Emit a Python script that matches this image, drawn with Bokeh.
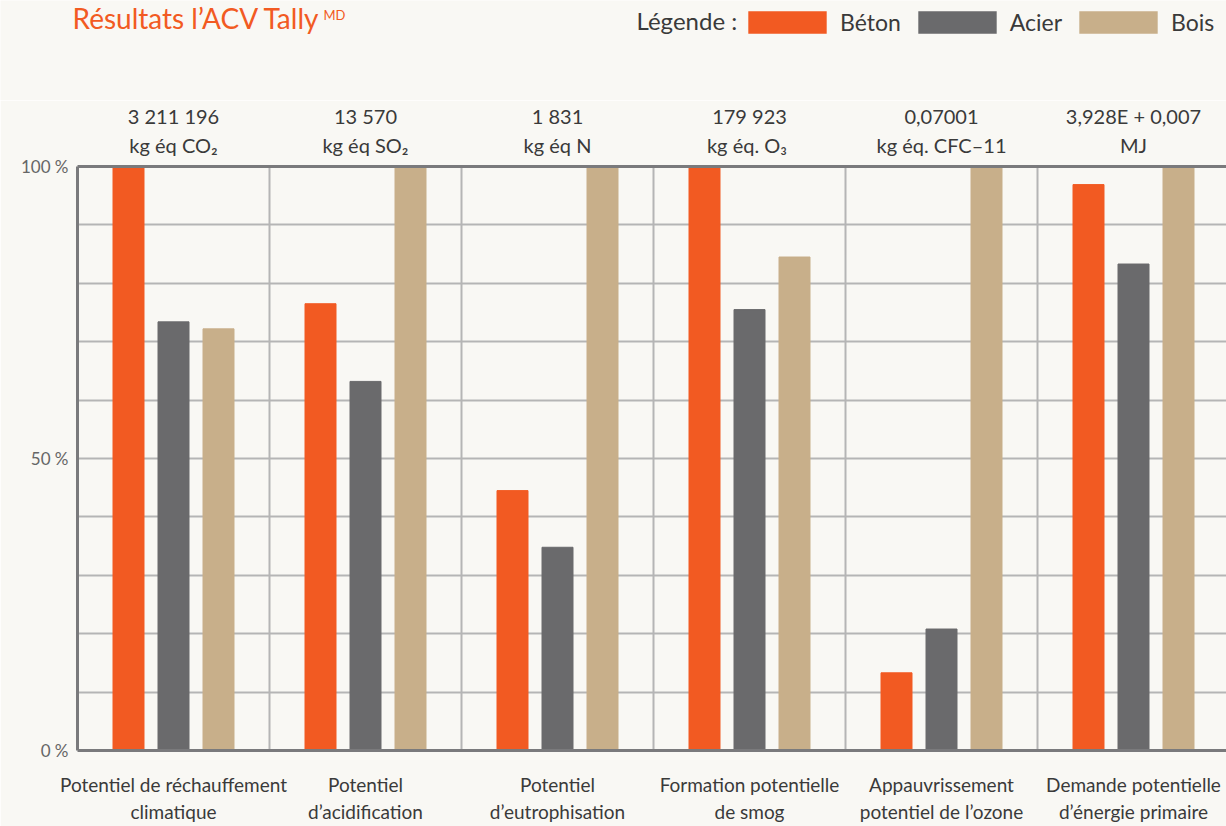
from bokeh.plotting import figure
from bokeh.layouts import column
from bokeh.models import FixedTicker, LinearAxis, Range1d, Label, Legend, LegendItem, ColumnDataSource
from bokeh.transform import dodge
from bokeh.embed import file_html
from bokeh.resources import INLINE

categories = ["Potentiel de réchauffement\nclimatique", "Potentiel\nd’acidification",
              "Potentiel\nd’eutrophisation", "Formation potentielle\nde smog",
              "Appauvrissement\npotentiel de l’ozone", "Demande potentielle\nd’énergie primaire"]
totals = ["3 211 196", "13 570", "1 831", "179 923", "0,07001", "3,928E + 0,007"]
units = ["kg éq CO₂", "kg éq SO₂", "kg éq N", "kg  éq. O₃", "kg éq. CFC–11", "MJ"]
beton = [100, 76.5, 44.5, 100, 13.3, 96.9]
acier = [73.4, 63.2, 34.8, 75.5, 20.8, 83.3]
bois = [72.2, 100, 100, 84.5, 100, 100]
series = ["Béton", "Acier", "Bois"]
ytick_values = [0, 50, 100]
ytick_labels = ["0 %", "50 %", "100 %"]

ORANGE = "#F25A22"
GREY = "#6A6A6C"
SAND = "#C8AF8A"
BG = "#F9F8F4"
GRID = "#B5B5B5"
AXIS = "#7A7A7C"
TXT = "#3A3A3A"
FONT = "Lato"
colors = [ORANGE, GREY, SAND]

centers = [i + 0.5 for i in range(len(categories))]
src = ColumnDataSource(dict(x=centers, beton=beton, acier=acier, bois=bois))

# ---------- header (title + legend) ----------
HEAD_H = 100
head = figure(width=1226, height=HEAD_H, output_backend="svg", toolbar_location=None,
              x_range=Range1d(0, 1226), y_range=Range1d(0, HEAD_H),
              min_border_left=0, min_border_right=0, min_border_top=0, min_border_bottom=0,
              background_fill_color=BG, border_fill_color=BG, outline_line_color=None,
              x_axis_location=None, y_axis_location=None)
head.frame_align = False
head.grid.visible = False

head.add_layout(Label(x=72, y=83, x_units="screen", y_units="screen", text="Résultats l’ACV Tally",
                      text_font=FONT, text_font_size="28px", text_color=ORANGE, text_baseline="middle"))
head.add_layout(Label(x=323, y=86, x_units="screen", y_units="screen", text="MD",
                      text_font=FONT, text_font_size="13px", text_color=ORANGE, text_baseline="middle"))
head.add_layout(Label(x=636, y=80, x_units="screen", y_units="screen", text="Légende :",
                      text_font=FONT, text_font_size="24px", text_color=TXT, text_baseline="middle"))

# zero-size bars that only feed the legend swatches
dummies = [head.vbar(x="x", top=0, bottom=0, width=0, source=src, fill_color=c, line_color=None)
           for c in colors]
legend = Legend(items=[LegendItem(label=s, renderers=[r]) for s, r in zip(series, dummies)],
                orientation="horizontal", location=(738, 64),
                glyph_width=98, glyph_height=28, label_height=22, label_standoff=4, spacing=7,
                label_text_font=FONT, label_text_font_size="23px", label_text_color=TXT,
                padding=0, margin=0, border_line_color=None, background_fill_alpha=0)
head.add_layout(legend, "center")

# ---------- main chart ----------
p = figure(width=1226, height=826 - HEAD_H, output_backend="svg", toolbar_location=None,
           x_range=Range1d(0, 1149 / 192), y_range=Range1d(0, 100),
           min_border_left=77, min_border_right=0, min_border_top=164 - HEAD_H, min_border_bottom=74,
           background_fill_color=BG, border_fill_color=BG, outline_line_color=None,
           x_axis_location=None, y_axis_location=None)
p.frame_align = False

p.xgrid.ticker = FixedTicker(ticks=[1, 2, 3, 4, 5])
p.ygrid.ticker = FixedTicker(ticks=list(range(10, 100, 10)))
for g in (p.xgrid, p.ygrid):
    g.grid_line_color = GRID
    g.grid_line_width = 2

bw = 31 / 192
off = 45 / 192
p.vbar(x=dodge("x", -off, range=p.x_range), top="beton", width=bw, source=src, color=ORANGE)
p.vbar(x=dodge("x", 0, range=p.x_range), top="acier", width=bw, source=src, color=GREY)
p.vbar(x=dodge("x", off, range=p.x_range), top="bois", width=bw, source=src, color=SAND)

def style_axis(ax, size="18px", color=TXT):
    ax.axis_line_color = AXIS
    ax.axis_line_width = 3
    ax.major_tick_line_color = None
    ax.minor_tick_line_color = None
    ax.major_tick_out = 0
    ax.major_tick_in = 0
    ax.major_label_text_font = FONT
    ax.major_label_text_font_size = size
    ax.major_label_text_color = color

bottom = LinearAxis(ticker=FixedTicker(ticks=centers),
                    major_label_overrides={c: lab for c, lab in zip(centers, categories)})
style_axis(bottom, size="19px")
bottom.major_label_standoff = 22
p.add_layout(bottom, "below")

top = LinearAxis(ticker=FixedTicker(ticks=centers),
                 major_label_overrides={c: f"{t}\n{u}" for c, t, u in zip(centers, totals, units)})
style_axis(top, size="20px")
top.major_label_standoff = 10
p.add_layout(top, "above")

left = LinearAxis(ticker=FixedTicker(ticks=ytick_values),
                  major_label_overrides={v: l for v, l in zip(ytick_values, ytick_labels)})
style_axis(left, size="17px", color="#666666")
left.major_label_standoff = 9
p.add_layout(left, "left")

layout = column(head, p, spacing=0)
html = file_html(layout, INLINE)
html = html.replace("<body>", f'<body style="background:{BG}">', 1)
open("out.html", "w").write(html)
